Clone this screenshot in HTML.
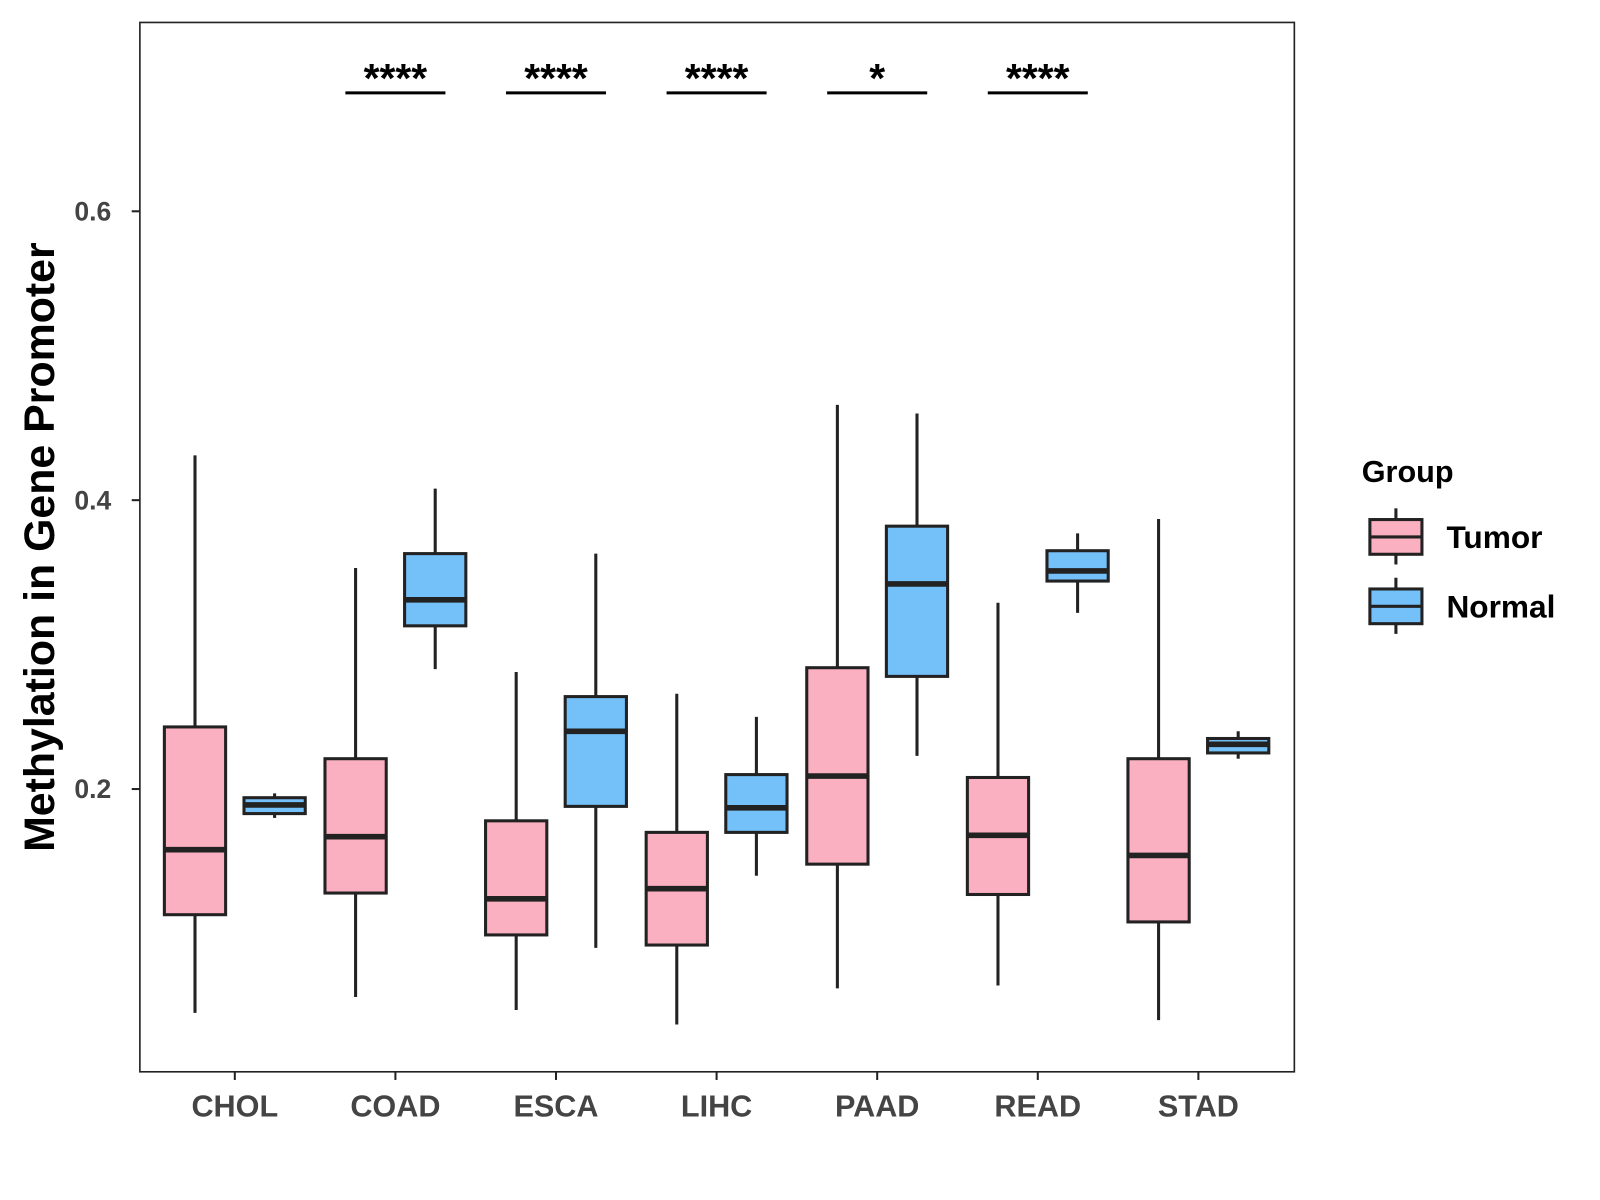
<!DOCTYPE html>
<html><head><meta charset="utf-8"><style>
html,body{margin:0;padding:0;background:#fff}
svg{display:block}
text{font-family:"Liberation Sans",Arial,sans-serif;font-weight:bold}
</style></head><body>
<svg id="chart" width="1600" height="1200" viewBox="0 0 1567.4 1175.6" xmlns="http://www.w3.org/2000/svg">
<rect x="0" y="0" width="1568" height="1176" fill="#fff"/>
<rect x="137" y="22" width="1131" height="1028" fill="none" stroke="#222" stroke-width="1.6"/>
<g id="marks"></g>
<text transform="translate(53,536) rotate(-90)" text-anchor="middle" font-size="42" fill="#000">Methylation in Gene Promoter</text>
<g>
<text x="1334" y="472" font-size="30" fill="#000">Group</text>
<g>
<line x1="1367.5" y1="498" x2="1367.5" y2="553" stroke="#222" stroke-width="3"/>
<rect x="1342" y="509" width="51" height="34" fill="#fbb0c1" stroke="#222" stroke-width="3"/>
<line x1="1342" y1="526" x2="1393" y2="526" stroke="#222" stroke-width="3"/>
<text x="1417" y="537" font-size="31" fill="#000">Tumor</text>
</g>
<g>
<line x1="1367.5" y1="566" x2="1367.5" y2="621" stroke="#222" stroke-width="3"/>
<rect x="1342" y="577" width="51" height="34" fill="#74c0f8" stroke="#222" stroke-width="3"/>
<line x1="1342" y1="594" x2="1393" y2="594" stroke="#222" stroke-width="3"/>
<text x="1417" y="605" font-size="31" fill="#000">Normal</text>
</g>
</g>
</svg>
<script>
const categories = ["CHOL","COAD","ESCA","LIHC","PAAD","READ","STAD"];
// [whiskerLow, q1, median, q3, whiskerHigh]
const tumorStats = [
 [0.045,0.113,0.158,0.243,0.431],
 [0.056,0.128,0.167,0.221,0.353],
 [0.047,0.099,0.124,0.178,0.281],
 [0.037,0.092,0.131,0.170,0.266],
 [0.062,0.148,0.209,0.284,0.466],
 [0.064,0.127,0.168,0.208,0.329],
 [0.040,0.108,0.154,0.221,0.387]
];
const normalStats = [
 [0.180,0.183,0.189,0.194,0.197],
 [0.283,0.313,0.331,0.363,0.408],
 [0.090,0.188,0.240,0.264,0.363],
 [0.140,0.170,0.187,0.210,0.250],
 [0.223,0.278,0.342,0.382,0.460],
 [0.322,0.344,0.351,0.365,0.377],
 [0.221,0.225,0.231,0.235,0.240]
];
const yTicks = [0.2,0.4,0.6];
const yTickLabels = ["0.2","0.4","0.6"];
const sigLabels = ["","****","****","****","*","****",""];

const NS="http://www.w3.org/2000/svg";
const g=document.getElementById('marks');
function yScale(v){return 773-(v-0.2)*1415;}
function xScale(i){return 230+i*157.33;}
function el(tag,attrs,parent){const e=document.createElementNS(NS,tag);for(const k in attrs)e.setAttribute(k,attrs[k]);(parent||g).appendChild(e);return e;}

yTicks.forEach((t,i)=>{
  const y=yScale(t);
  const tk=el('line',{x1:129,x2:137,y1:y,y2:y,stroke:'#222','stroke-width':2});
  
  
  const lb=el('text',{x:109,y:y+9,'text-anchor':'end','font-size':26,fill:'#444'});
  lb.textContent=yTickLabels[i];
  
  
});
categories.forEach((c,i)=>{
  const x=xScale(i);
  const tk=el('line',{x1:x,x2:x,y1:1050,y2:1058,stroke:'#222','stroke-width':2});
  
  
  const lb=el('text',{x:x,y:1094,'text-anchor':'middle','font-size':30,fill:'#444'});
  lb.textContent=c;
  
  
});
function drawBox(s,cx,fill,name){
  const grp=el('g',{});
  
  
  const w=60;
  el('line',{x1:cx,x2:cx,y1:yScale(s[0]),y2:yScale(s[4]),stroke:'#222','stroke-width':3},grp);
  el('rect',{x:cx-w/2,y:yScale(s[3]),width:w,height:yScale(s[1])-yScale(s[3]),fill:fill,stroke:'#222','stroke-width':3},grp);
  el('line',{x1:cx-w/2,x2:cx+w/2,y1:yScale(s[2]),y2:yScale(s[2]),stroke:'#222','stroke-width':5.5},grp);
}
categories.forEach((c,i)=>{
  const x=xScale(i);
  drawBox(tumorStats[i],x-39,'#fbb0c1','box-tumor-'+c.toLowerCase());
  drawBox(normalStats[i],x+39,'#74c0f8','box-normal-'+c.toLowerCase());
  if(sigLabels[i]){
    const ln=el('line',{x1:x-49,x2:x+49,y1:91,y2:91,stroke:'#000','stroke-width':3});
    
    
    const t=el('text',{x:x,y:90,'text-anchor':'middle','font-size':40,fill:'#000'});
    t.textContent=sigLabels[i];
    
    
  }
});
</script>
</body></html>
